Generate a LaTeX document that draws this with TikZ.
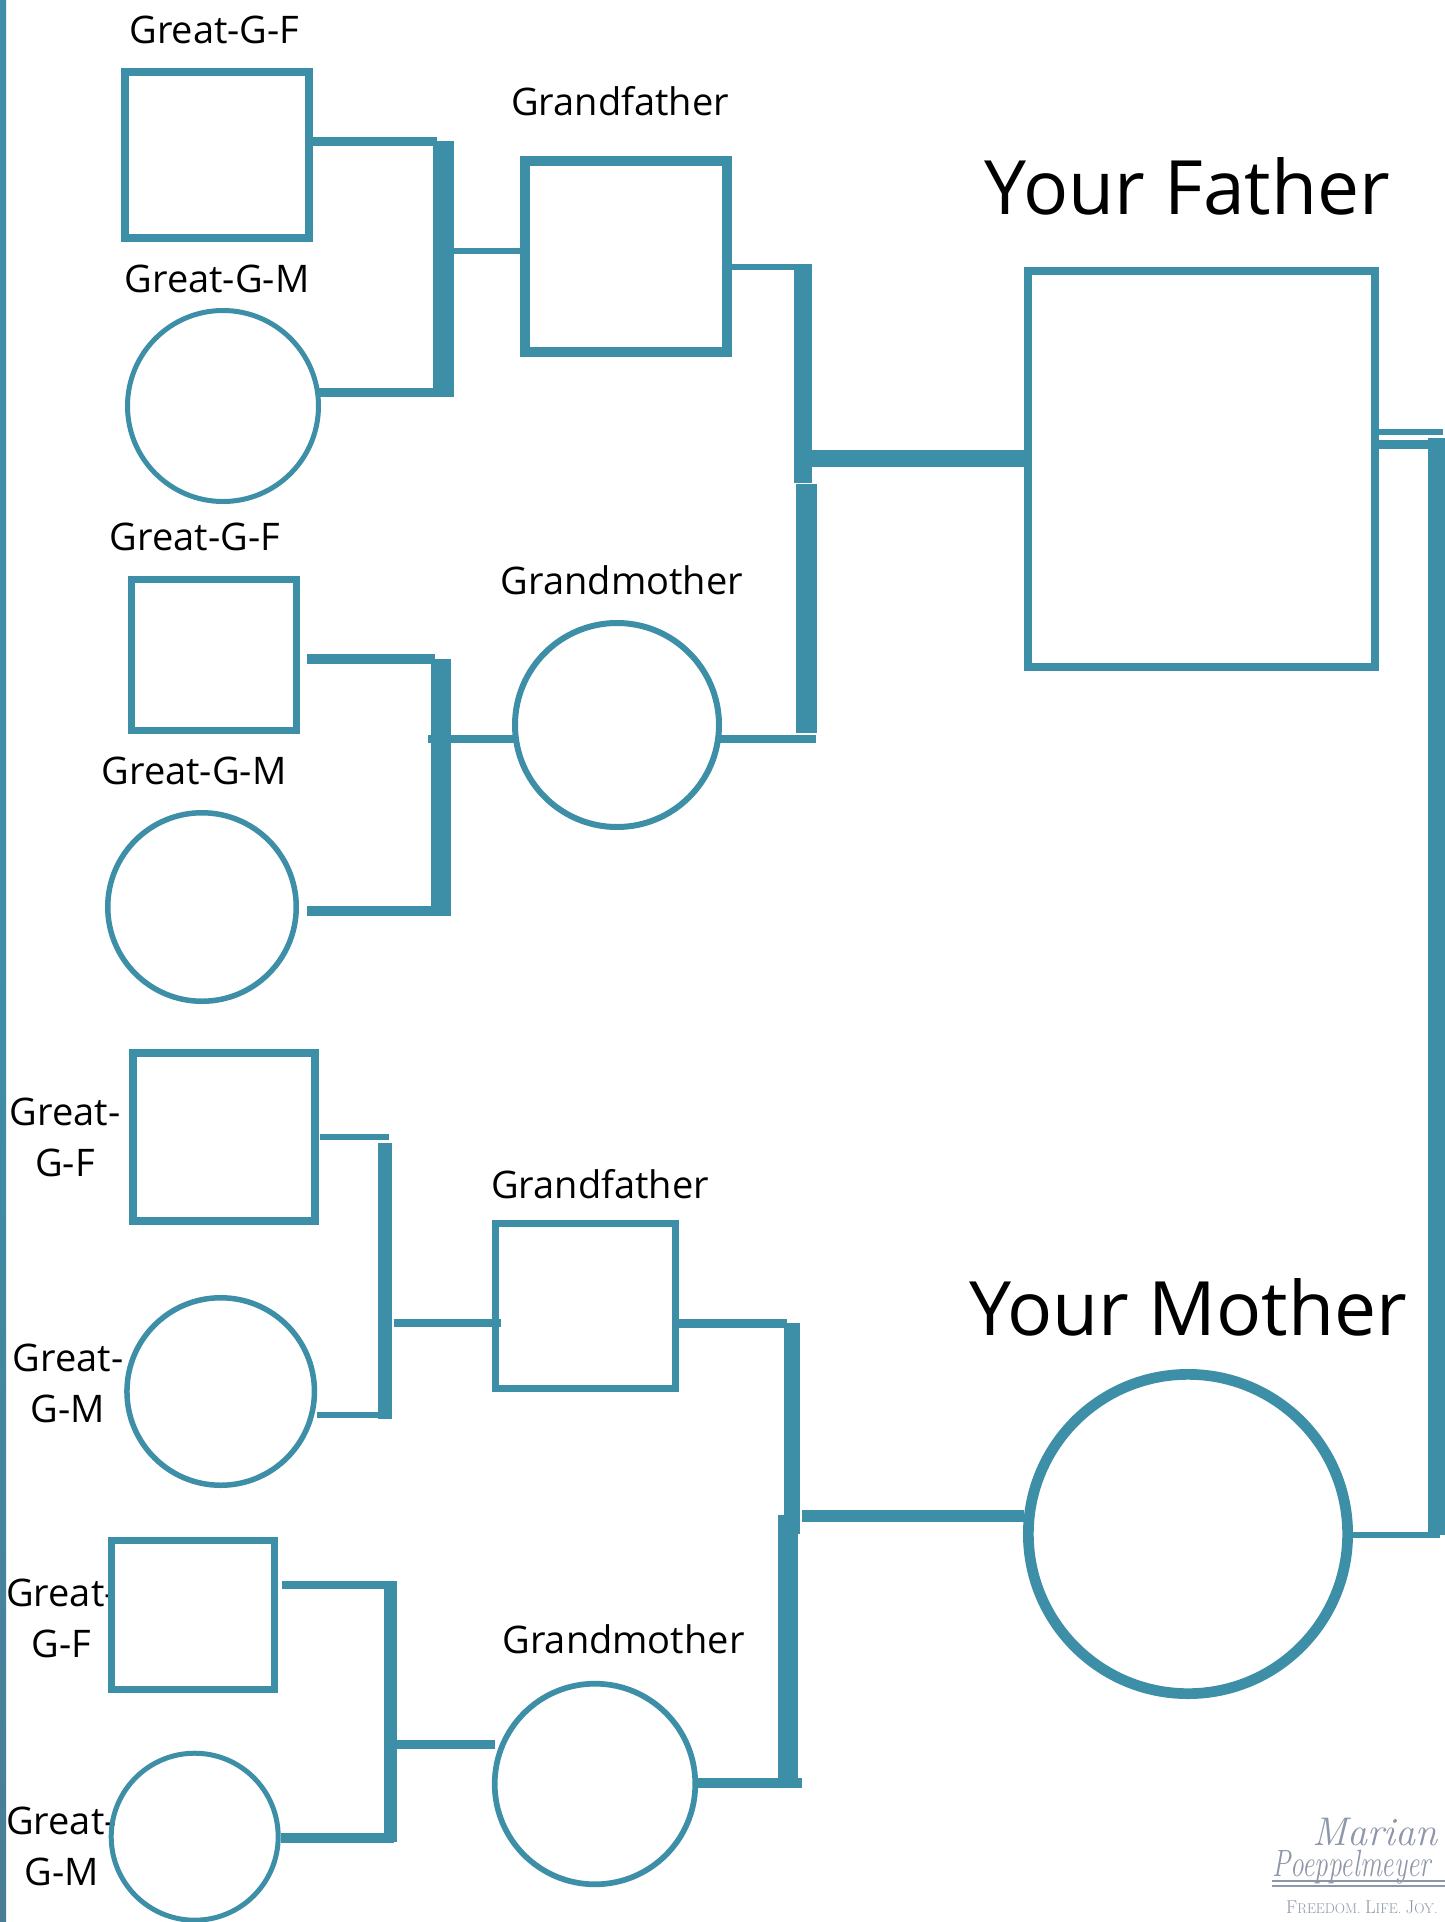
\documentclass[tikz,border=0pt]{standalone}
\usepackage{fontspec}
\setmainfont{Open Sans}
\newfontfamily\lmfont{Latin Modern Roman}
\definecolor{teal0}{RGB}{61,142,167}
\definecolor{grayblue}{RGB}{74,125,150}
\definecolor{wmgray}{RGB}{142,151,170}
\tikzset{
  box/.style={draw=teal0, rectangle, inner sep=0pt, outer sep=0pt},
  ring/.style={draw=teal0, circle, inner sep=0pt, outer sep=0pt},
  lbl/.style={font=\fontsize{38}{51}\selectfont, inner sep=0pt, anchor=base, align=center},
  big/.style={font=\fontsize{75}{90}\selectfont, inner sep=0pt, anchor=base},
  link/.style={draw=teal0, line cap=butt},
  wm/.style={text=wmgray, inner sep=0pt, anchor=base west},
}
\begin{document}
\begin{tikzpicture}[x=1pt,y=-1pt]
\useasboundingbox (0,0) rectangle (1445,1922);
\fill[white] (0,0) rectangle (1445,1922);
\shade[top color=teal0, bottom color=grayblue, middle color=teal0] (0,0) rectangle (6,1922);

% ---------- nodes: paternal side ----------
\node[lbl] (tA1) at (214.5,43) {Great-G-F};
\node[box, line width=8pt, minimum width=184pt, minimum height=166pt] (ggfA) at (217,155) {};
\node[lbl] (tA2) at (217,292) {Great-G-M};
\node[ring, line width=5pt, minimum size=191pt] (ggmA) at (223,406) {};
\node[lbl] (tGF1) at (620,115) {Grandfather};
\node[box, line width=10pt, minimum width=202pt, minimum height=191pt] (gfA) at (626,256.5) {};
\node[big] (tFa) at (1187.5,214) {Your Father};
\node[box, line width=8pt, minimum width=347pt, minimum height=396pt] (fa) at (1201.5,469) {};

\node[lbl] (tB1) at (195,550) {Great-G-F};
\node[box, line width=7pt, minimum width=165pt, minimum height=151pt] (ggfB) at (214,655) {};
\node[lbl] (tB2) at (194,784) {Great-G-M};
\node[ring, line width=5.5pt, minimum size=188.5pt] (ggmB) at (202,907) {};
\node[lbl] (tGM1) at (622,594) {Grandmother};
\node[ring, line width=6pt, minimum size=204pt] (gmA) at (617,725) {};

% ---------- nodes: maternal side (two-line labels anchored on their last baseline) ----------
\node[lbl] (tC1) at (65,1176) {Great-\\G-F};
\node[box, line width=8pt, minimum width=182pt, minimum height=168pt] (ggfC) at (223.5,1137) {};
\node[lbl] (tC2) at (68,1422.5) {Great-\\G-M};
\node[ring, line width=5.5pt, minimum size=187.5pt] (ggmC) at (220.7,1391.5) {};
\node[lbl] (tGF2) at (600,1198) {Grandfather};
\node[box, line width=7pt, minimum width=180pt, minimum height=165pt] (gfB) at (585.5,1306) {};
\node[big] (tMo) at (1188,1335) {Your Mother};
\node[ring, line width=10.7pt, minimum size=319.3pt] (mo) at (1188,1534) {};

\node[lbl] (tD1) at (61.5,1657) {Great-\\G-F};
\node[box, line width=6.7pt, minimum width=163.3pt, minimum height=149.3pt] (ggfD) at (193,1615) {};
\node[lbl] (tD2) at (61.5,1885) {Great-\\G-M};
\node[ring, line width=5pt, minimum size=167pt] (ggmD) at (194.7,1836.7) {};
\node[lbl] (tGM2) at (623.5,1653) {Grandmother};
\node[ring, line width=5.7pt, minimum size=200.6pt] (gmB) at (595,1784) {};

% ---------- junction coordinates ----------
\coordinate (b1t) at (443.5,141);  \coordinate (b1b) at (443.5,397);
\coordinate (j1a) at (437,141.5);  \coordinate (j1b) at (437,392.5); \coordinate (j1m) at (454,251);
\coordinate (b2at) at (803,264);   \coordinate (b2ab) at (803,483);
\coordinate (b2bt) at (806,484);   \coordinate (b2bb) at (806,733);
\coordinate (j2a) at (802,267);    \coordinate (j2m) at (812,458.5);  \coordinate (j2b) at (816,739);
\coordinate (b3t) at (441,659);    \coordinate (b3b) at (441,916);
\coordinate (j3a) at (435,659);    \coordinate (j3b) at (435,911);    \coordinate (j3m) at (428,739);
\coordinate (bbt) at (1436.5,438); \coordinate (bbb) at (1436.5,1535);
\coordinate (j4a) at (1443,432);   \coordinate (j4b) at (1428,444.5); \coordinate (j4c) at (1440,1535);
\coordinate (b4t) at (385,1143);   \coordinate (b4b) at (385,1419);
\coordinate (j5a) at (389,1137);   \coordinate (j5b) at (378,1415);   \coordinate (j5m) at (393.6,1323);
\coordinate (b5at) at (792,1323);  \coordinate (b5ab) at (792,1534);
\coordinate (b5bt) at (788,1515);  \coordinate (b5bb) at (788,1788);
\coordinate (j6a) at (787,1323);   \coordinate (j6m) at (802,1516);   \coordinate (j6b) at (802,1783);
\coordinate (b6t) at (390.5,1581); \coordinate (b6b) at (390.5,1842);
\coordinate (j7a) at (391,1585);   \coordinate (j7b) at (394,1838);   \coordinate (j7m) at (384,1744.7);

% ---------- bars ----------
\draw[link, line width=20.7pt] (b1t) -- (b1b);
\draw[link, line width=18pt] (b2at) -- (b2ab);
\draw[link, line width=21pt] (b2bt) -- (b2bb);
\draw[link, line width=20pt] (b3t) -- (b3b);
\draw[link, line width=17pt] (bbt) -- (bbb);
\draw[link, line width=13.5pt] (b4t) -- (b4b);
\draw[link, line width=16.7pt] (b5at) -- (b5ab);
\draw[link, line width=20pt] (b5bt) -- (b5bb);
\draw[link, line width=13pt] (b6t) -- (b6b);

% ---------- connectors ----------
\draw[link, line width=9pt] (ggfA.east |- j1a) -- (j1a);
\draw[link, line width=9pt] (ggmA.east |- j1b) -- (j1b);
\draw[link, line width=6pt] (j1m) -- (gfA.west |- j1m);
\draw[link, line width=6pt] (gfA.east |- j2a) -- (j2a);
\draw[link, line width=17pt] (j2m) -- (fa.west |- j2m);
\draw[link, line width=7.5pt] (gmA.east |- j2b) -- (j2b);
\draw[link, line width=10pt, shorten <=10.5pt] (ggfB.east |- j3a) -- (j3a);
\draw[link, line width=10pt, shorten <=11pt] (ggmB.east |- j3b) -- (j3b);
\draw[link, line width=7.5pt] (j3m) -- (gmA.west |- j3m);
\draw[link, line width=6pt] (fa.east |- j4a) -- (j4a);
\draw[link, line width=9pt] (fa.east |- j4b) -- (j4b);
\draw[link, line width=6.7pt] (mo.east |- j4c) -- (j4c);
\draw[link, line width=5.5pt, shorten <=5pt] (ggfC.east |- j5a) -- (j5a);
\draw[link, line width=6pt, shorten <=3pt] (ggmC.east |- j5b) -- (j5b);
\draw[link, line width=8.5pt, shorten >=-5pt] (j5m) -- (gfB.west |- j5m);
\draw[link, line width=9pt] (gfB.east |- j6a) -- (j6a);
\draw[link, line width=12pt, shorten >=4pt] (j6m) -- (mo.west |- j6m);
\draw[link, line width=8.7pt, shorten <=7pt] (ggfD.east |- j7a) -- (j7a);
\draw[link, line width=10pt, shorten <=3pt] (ggmD.east |- j7b) -- (j7b);
\draw[link, line width=9.4pt] (j7m) -- (gmB.west |- j7m);
\draw[link, line width=10pt] (gmB.east |- j6b) -- (j6b);

% ---------- watermark ----------
\node[wm, font=\fontsize{40}{40}\lmfont\itshape] (wmA) at (1312,1845) {Marian};
\node[wm, font=\fontsize{38}{38}\lmfont\itshape, xscale=0.72] (wmB) at (1272,1876) {Poeppelmeyer};
\coordinate (wl1a) at (1272,1881); \coordinate (wl1b) at (1445,1881);
\coordinate (wl2a) at (1272,1886); \coordinate (wl2b) at (1445,1886);
\draw[wmgray, line width=2.5pt] (wl1a) -- (wl1b);
\draw[wmgray, line width=1.5pt] (wl2a) -- (wl2b);
\node[wm, font=\lmfont] (wmC) at (1286,1913) {{\fontsize{18.5}{18}\selectfont F}{\fontsize{14.2}{14}\selectfont REEDOM. }{\fontsize{18.5}{18}\selectfont L}{\fontsize{14.2}{14}\selectfont IFE. }{\fontsize{18.5}{18}\selectfont J}{\fontsize{14.2}{14}\selectfont OY.}};
\end{tikzpicture}
\end{document}
